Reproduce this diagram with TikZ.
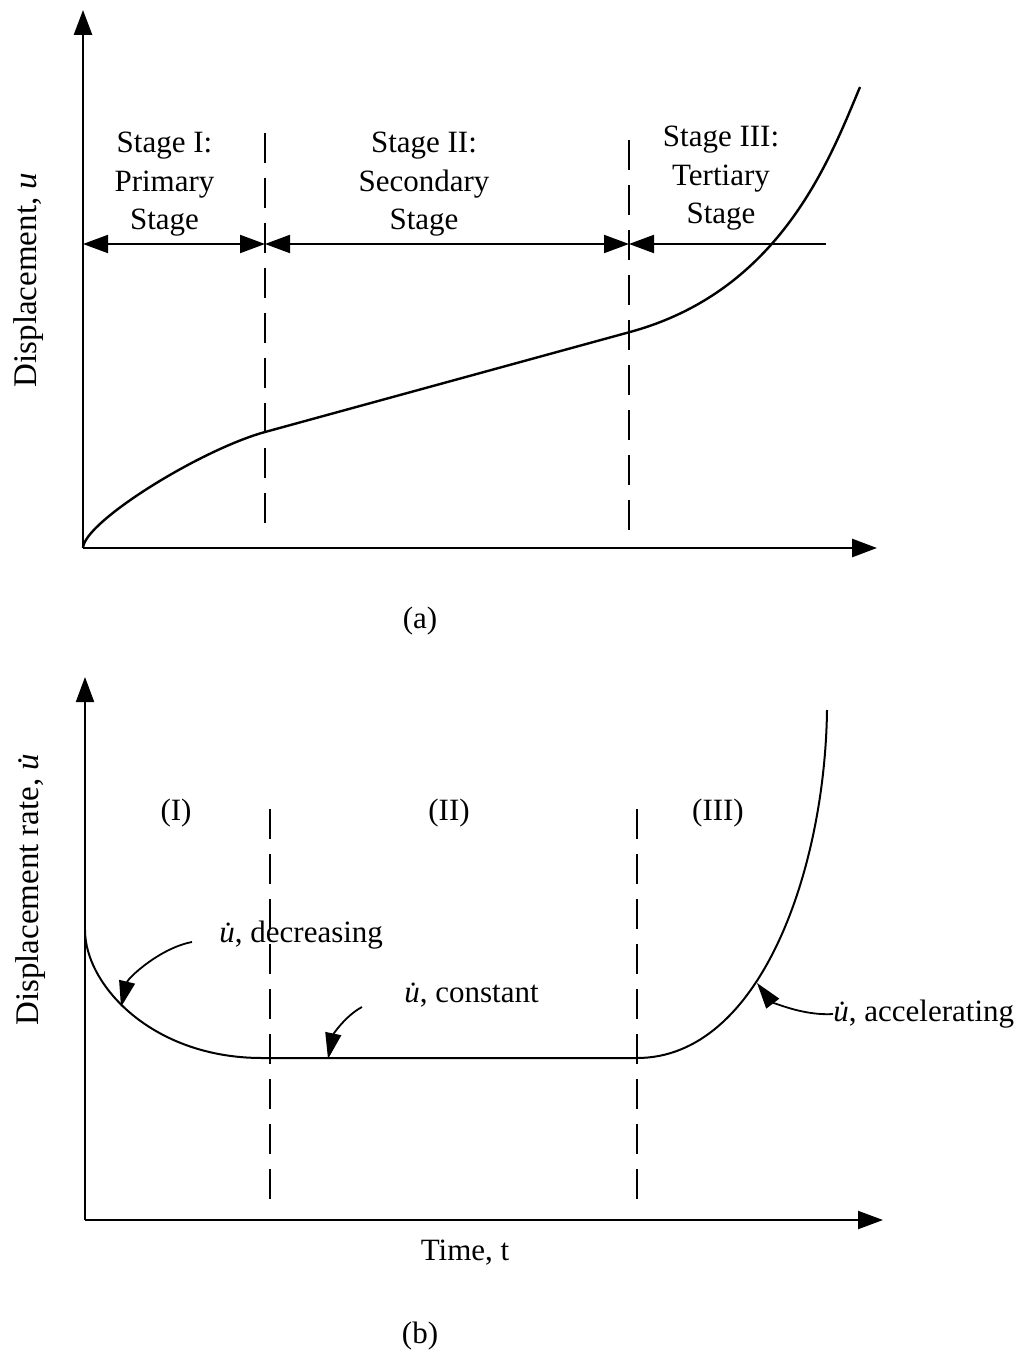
\documentclass[tikz,border=0pt]{standalone}
\usepackage{fontspec}
\setmainfont{Liberation Serif}
\usepackage{tikz}
\usetikzlibrary{arrows.meta}

\newcommand{\udot}{\textit{\.{u}}}

\begin{document}
\begin{tikzpicture}[x=0.5pt, y=-0.5pt,
    >={Triangle[length=12.5pt, width=9pt]},
    axis/.style={->, line width=1.4pt},
    curve/.style={line width=1.2pt},
    divider/.style={line width=0.7pt, dash pattern=on 15pt off 7.5pt},
    span/.style={line width=1pt},
    pointer/.style={-{Triangle[length=13pt, width=8pt]}, line width=0.9pt},
    lbl/.style={inner sep=0pt, font=\fontsize{15.5}{19.25}\selectfont}]
\useasboundingbox (0,0) rectangle (1032,1353);

% (a) displacement against time
\coordinate (oa) at (83,548);
\coordinate (ya) at (83,10);
\coordinate (xa) at (877,548);
\draw[axis] (oa) -- (ya);
\draw[axis] (oa) -- (xa);

\coordinate (d1top) at (265,133);
\coordinate (d1bot) at (265,528);
\coordinate (d2top) at (629,140);
\coordinate (d2bot) at (629,535);
\draw[divider] (d1top) -- (d1bot);
\draw[divider] (d2top) -- (d2bot);

\coordinate (s0) at (83,244);
\coordinate (s1) at (265,244);
\coordinate (s2) at (629,244);
\coordinate (s3) at (826,244);
\draw[span, <->] (s0) -- (s1);
\draw[span, <->] (s1) -- (s2);
\draw[span, <-] (s2) -- (s3);

\draw[curve] (oa) .. controls (84,522) and (200,450) .. (265,432)
    -- (630,332) .. controls (780,291) and (829,161) .. (860,87);

\node[lbl, align=center, anchor=north] (stage1) at (164.5,132) {Stage I:\\Primary\\Stage};
\node[lbl, align=center, anchor=north] (stage2) at (424,132) {Stage II:\\Secondary\\Stage};
\node[lbl, align=center, anchor=north] (stage3) at (721,126) {Stage III:\\Tertiary\\Stage};
\node[lbl, rotate=90, font=\fontsize{16.5}{20}\selectfont] (ylabela) at (29,280) {Displacement, \textit{u}};
\node[lbl, anchor=base] (capa) at (420,628) {(a)};

% (b) displacement rate against time
\coordinate (ob) at (85,1220);
\coordinate (yb) at (85,677);
\coordinate (xb) at (883,1220);
\draw[axis, line width=1pt] (ob) -- (yb);
\draw[axis, line width=1pt] (ob) -- (xb);

\coordinate (e1top) at (270,809);
\coordinate (e1bot) at (270,1205);
\coordinate (e2top) at (637,809);
\coordinate (e2bot) at (637,1205);
\draw[divider] (e1top) -- (e1bot);
\draw[divider] (e2top) -- (e2bot);

\draw[curve, line width=1pt] (85,930) .. controls (85,985) and (152,1058) .. (262,1058)
    -- (637,1058) .. controls (760,1058) and (825,870) .. (827,710);

\node[lbl, anchor=base] (reg1) at (176,820) {(I)};
\node[lbl, anchor=base] (reg2) at (449,820) {(II)};
\node[lbl, anchor=base] (reg3) at (718,820) {(III)};

\node[lbl, anchor=base west] (dec) at (219,942) {\udot, decreasing};
\node[lbl, anchor=base west] (const) at (404,1002) {\udot, constant};
\node[lbl, anchor=base west] (acc) at (833,1021) {\udot, accelerating};

\coordinate (dectail) at (192,942);
\coordinate (dectip) at (121,1007);
\coordinate (consttail) at (362,1007);
\coordinate (consttip) at (328,1059);
\coordinate (acctail) at (833,1014);
\coordinate (acctip) at (757,983);
\draw[pointer] (dectail) .. controls (160,948) and (128,978) .. (dectip);
\draw[pointer] (consttail) .. controls (345,1016) and (333,1035) .. (consttip);
\draw[pointer] (acctail) .. controls (800,1016) and (770,1000) .. (acctip);

\node[lbl, rotate=90, font=\fontsize{16.5}{20}\selectfont] (ylabelb) at (31,885) {Displacement rate, \udot};
\node[lbl, anchor=base] (timelbl) at (465,1260) {Time, t};
\node[lbl, anchor=base] (capb) at (420,1343) {(b)};
\end{tikzpicture}
\end{document}
